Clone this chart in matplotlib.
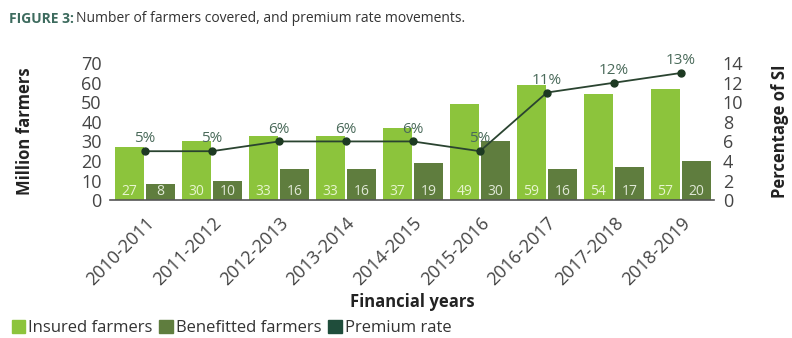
import numpy as np
import matplotlib.pyplot as plt
from matplotlib.patches import Patch

plt.rcParams['font.family'] = ['Open Sans', 'DejaVu Sans']

years = ['2010-2011', '2011-2012', '2012-2013', '2013-2014', '2014-2015',
         '2015-2016', '2016-2017', '2017-2018', '2018-2019']
insured = [27, 30, 33, 33, 37, 49, 59, 54, 57]
benefitted = [8, 10, 16, 16, 19, 30, 16, 17, 20]
premium_rate = [5, 5, 6, 6, 6, 5, 11, 12, 13]

c_insured = '#8cc43c'
c_benefit = '#5f7d3e'
c_premium = '#1f4d3b'
c_text = '#444444'

fig = plt.figure(figsize=(7.92, 3.38), dpi=100)
ax = fig.add_axes([0.139, 0.408, 0.763, 0.405])

x = np.arange(len(years))
w = 0.44
ax.bar(x - w / 2 - 0.01, insured, w, color=c_insured)
ax.bar(x + w / 2 + 0.01, benefitted, w, color=c_benefit)

# values written at the foot of each bar
for xi, v in zip(x, insured):
    ax.text(xi - w / 2 - 0.01, 0.6, str(v), ha='center', va='bottom',
            fontsize=10, color='#e8f5d0')
for xi, v in zip(x, benefitted):
    ax.text(xi + w / 2 + 0.01, 0.6, str(v), ha='center', va='bottom',
            fontsize=10, color='#e0e8d6')

ax.set_xlim(-0.52, 8.5)
ax.set_ylim(0, 70)
ax.set_yticks(range(0, 71, 10))
ax.set_xticks(x)
ax.set_xticklabels(years, rotation=45, ha='right', rotation_mode='anchor',
                   fontsize=13, color=c_text)
ax.tick_params(axis='y', labelsize=13, colors=c_text, length=0, pad=6)
ax.tick_params(axis='x', length=0, pad=10)
for s in ['top', 'right', 'left']:
    ax.spines[s].set_visible(False)
ax.spines['bottom'].set_color('#555555')
ax.spines['bottom'].set_linewidth(1.2)
ax.set_ylabel('Million farmers', fontsize=12, fontweight='bold',
              color='#222222', labelpad=34)
ax.set_xlabel('Financial years', fontsize=12, fontweight='bold',
              color='#222222', labelpad=3)

ax2 = ax.twinx()
ax2.set_ylim(0, 14)
ax2.set_yticks(range(0, 15, 2))
ax2.plot(x, premium_rate, color='#2a4430', lw=1.3, marker='o',
         markersize=5, markerfacecolor='#1d3a22', markeredgecolor='#1d3a22')
for xi, v in zip(x, premium_rate):
    ax2.text(xi, v + 0.5, f'{v}%', ha='center', va='bottom',
             fontsize=11, color='#4a6a5a')
for s in ['top', 'right', 'left', 'bottom']:
    ax2.spines[s].set_visible(False)
ax2.tick_params(axis='y', labelsize=13, colors=c_text, length=0, pad=6)
ax2.set_ylabel('Percentage of SI', fontsize=12, fontweight='bold',
               color='#222222', labelpad=20)

# title: bold figure number followed by the caption
t1 = fig.text(0.011, 0.945, 'FIGURE 3:', fontsize=10, fontweight='bold',
              color='#3d6b5e', va='center')
fig.canvas.draw()
bb = t1.get_window_extent().transformed(fig.transFigure.inverted())
fig.text(bb.x1 + 0.003, 0.945,
         'Number of farmers covered, and premium rate movements.',
         fontsize=10, color='#333333', va='center')

handles = [Patch(color=c_insured), Patch(color=c_benefit), Patch(color=c_premium)]
fig.legend(handles, ['Insured farmers', 'Benefitted farmers', 'Premium rate'],
           loc='lower left', bbox_to_anchor=(0.0, -0.03), ncol=3, frameon=False,
           fontsize=12, handlelength=0.8, handleheight=0.8, handletextpad=0.2,
           columnspacing=0.4, labelcolor='#333333', borderaxespad=0.3)

fig.savefig('out.png', dpi=100)
